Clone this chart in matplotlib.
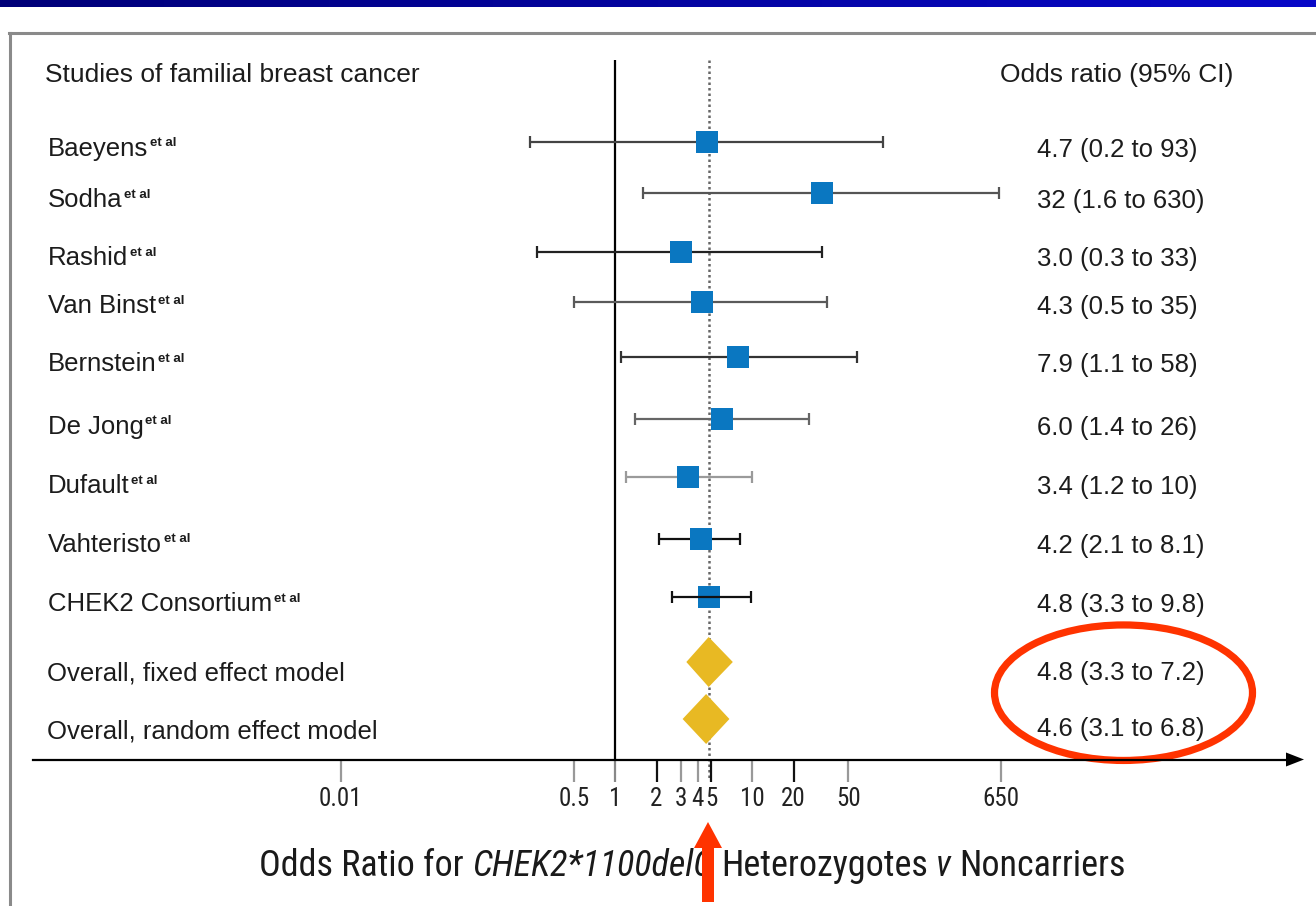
import numpy as np
import matplotlib
matplotlib.use("Agg")
import matplotlib.pyplot as plt
from matplotlib import font_manager
from matplotlib.transforms import Affine2D
from matplotlib.patches import Ellipse, Polygon
from matplotlib.lines import Line2D
from matplotlib.colors import LinearSegmentedColormap

# ---------------- data ----------------
studies = ["Baeyens", "Sodha", "Rashid", "Van Binst", "Bernstein",
           "De Jong", "Dufault", "Vahteristo", "CHEK2 Consortium"]
or_vals = [4.7, 32, 3.0, 4.3, 7.9, 6.0, 3.4, 4.2, 4.8]
ci_lo = [0.24, 1.6, 0.27, 0.5, 1.1, 1.4, 1.2, 2.1, 2.6]
ci_hi = [90, 630, 32, 35, 58, 26, 10, 8.1, 9.8]
or_text = ["4.7 (0.2 to 93)", "32 (1.6 to 630)", "3.0 (0.3 to 33)",
           "4.3 (0.5 to 35)", "7.9 (1.1 to 58)", "6.0 (1.4 to 26)",
           "3.4 (1.2 to 10)", "4.2 (2.1 to 8.1)", "4.8 (3.3 to 9.8)"]
pooled_labels = ["Overall, fixed effect model", "Overall, random effect model"]
pooled_or = [4.8, 4.6]
pooled_lo = [3.3, 3.1]
pooled_hi = [7.2, 6.8]
pooled_text = ["4.8 (3.3 to 7.2)", "4.6 (3.1 to 6.8)"]
tick_vals = [0.01, 0.5, 1, 2, 3, 4, 5, 10, 20, 50, 650]
tick_labels = ["0.01", "0.5", "1", "2", "3", "4", "5", "10", "20", "50", "650"]

# ---------------- layout / style ----------------
W, H = 1316, 906
PX0, PX_DEC = 615.2, 137.2          # pixel of OR=1 and pixels per decade
study_y = [142, 193, 252, 302, 357, 419, 477, 539, 597]
pooled_y = [662, 719]
study_text_y = [147, 198, 256, 304, 362, 425, 484, 543, 602]
pooled_text_y = [672, 730]
pooled_rtext_y = [671, 727]
bar_colors = ["#444444", "#555555", "#222222", "#5a5a5a", "#333333",
              "#666666", "#9a9a9a", "#111111", "#111111"]
tick_colors = ["#999999", "#999999", "#888888", "#111111", "#999999", "#999999",
               "#111111", "#999999", "#111111", "#999999", "#999999"]
TXT = "#1c1c1c"


def pick_font(cands):
    for c in cands:
        try:
            font_manager.findfont(font_manager.FontProperties(family=c),
                                  fallback_to_default=False)
            return c
        except Exception:
            continue
    return "DejaVu Sans"


FONT = pick_font(["Liberation Sans", "Arial", "DejaVu Sans"])
NARROW = pick_font(["Liberation Sans Narrow", "Roboto Condensed", "Arial Narrow",
                    "Open Sans Condensed", "Liberation Sans"])

fig = plt.figure(figsize=(W / 100, H / 100), dpi=100)
fig.patch.set_facecolor("white")
renderer = fig.canvas.get_renderer()

# pixel transform (origin top-left)
pix = Affine2D().scale(1.0 / W, -1.0 / H).translate(0, 1) + fig.transFigure

ax = fig.add_axes([0, 0, 1, 1])
ax.set_xscale("log")
ax.set_xlim(10 ** ((0 - PX0) / PX_DEC), 10 ** ((W - PX0) / PX_DEC))
ax.set_ylim(H, 0)
ax.axis("off")

# top gradient bar
bar_ax = fig.add_axes([0, 1 - 7.5 / H, 1, 7.5 / H])
cmap = LinearSegmentedColormap.from_list("bar", ["#000078", "#0808c8"])
bar_ax.imshow(np.linspace(0, 1, 256)[None, :], aspect="auto", cmap=cmap)
bar_ax.axis("off")

# panel border
fig.add_artist(Line2D([9.5, 9.5], [906, 33], transform=pix, color="#8a8a8a", lw=2.2))
fig.add_artist(Line2D([8.5, 1316], [33, 33], transform=pix, color="#8a8a8a", lw=2.2))

# reference lines
ax.vlines(1, 60, 760, color="black", lw=1.6, zorder=3)
ax.vlines(pooled_or[0], 60, 778, color="#666666", lw=1.8,
          linestyles=[(0, (1.0, 1.2))], zorder=2)

# study CIs and squares
for i in range(len(studies)):
    z = 5 if i == len(studies) - 1 else 3
    ax.hlines(study_y[i], ci_lo[i], ci_hi[i], color=bar_colors[i], lw=1.6, zorder=z)
    ax.vlines([ci_lo[i], ci_hi[i]], study_y[i] - 6, study_y[i] + 6,
              color=bar_colors[i], lw=1.6, zorder=z)
ax.plot(or_vals, study_y, "s", ms=15.2, color="#0a77c1", mew=0, zorder=4)

# pooled diamonds
for i in range(len(pooled_or)):
    ax.fill([pooled_lo[i], pooled_or[i], pooled_hi[i], pooled_or[i]],
            [pooled_y[i], pooled_y[i] - 25, pooled_y[i], pooled_y[i] + 25],
            color="#e8b923", lw=0, zorder=4)

# x axis with arrow
fig.add_artist(Line2D([33, 1290], [759.5, 759.5], transform=pix, color="black", lw=1.6))
fig.add_artist(Polygon([(1286, 752.5), (1304, 759.5), (1286, 766.5)], closed=True,
                       transform=pix, color="black", lw=0))
ax.vlines(tick_vals, 760, 782, colors=tick_colors, lw=1.6, zorder=3)
for v, lab in zip(tick_vals, tick_labels):
    ax.text(v, 806, lab, ha="center", va="baseline", fontsize=18,
            family=NARROW, color="#222222")

# headers
fig.text(45, 82, "Studies of familial breast cancer", transform=pix, fontsize=19,
         family=FONT, color=TXT, va="baseline")
fig.text(1000, 82, "Odds ratio (95% CI)", transform=pix, fontsize=19,
         family=FONT, color=TXT, va="baseline")

# study labels with superscript
for name, ty, rt in zip(studies, study_text_y, or_text):
    base = ty + 9
    t = fig.text(48, base, name, transform=pix, fontsize=18.5, family=FONT,
                 color=TXT, va="baseline")
    bb = t.get_window_extent(renderer)
    fig.text(bb.x1 + 1.5, base - 18.5, "et al", transform=pix, fontsize=9.5,
             family=FONT, weight="bold", color=TXT, va="top")
    fig.text(1037, base + 1, rt, transform=pix, fontsize=18.5, family=FONT,
             color=TXT, va="baseline")

for lab, ty, rty, rt in zip(pooled_labels, pooled_text_y, pooled_rtext_y, pooled_text):
    fig.text(47, ty + 9, lab, transform=pix, fontsize=18.5, family=FONT,
             color=TXT, va="baseline")
    fig.text(1037, rty + 9, rt, transform=pix, fontsize=18.5, family=FONT,
             color=TXT, va="baseline")


# x label with italic parts, sized to span ~869 px like the reference
def build_xlabel(fs):
    pieces = [("Odds Ratio for", "normal"), ("CHEK2*1100delC", "italic"),
              ("Heterozygotes", "normal"), ("v", "italic"), ("Noncarriers", "normal")]
    texts = [fig.text(0, 876, s, transform=pix, fontsize=fs, family=NARROW,
                      style=st, color="#1a1a1a", va="baseline") for s, st in pieces]
    a = fig.text(0, 0, "a a", fontsize=fs, family=NARROW)
    b = fig.text(0, 0, "aa", fontsize=fs, family=NARROW)
    gap = a.get_window_extent(renderer).width - b.get_window_extent(renderer).width
    a.remove()
    b.remove()
    widths = [t.get_window_extent(renderer).width for t in texts]
    total = sum(widths) + gap * (len(widths) - 1)
    return texts, widths, gap, total


texts, widths, gap, total = build_xlabel(26)
if total > 875:
    fs = 26 * 869.0 / total
    for t in texts:
        t.remove()
    texts, widths, gap, total = build_xlabel(fs)
x = 692.5 - total / 2
for t, w in zip(texts, widths):
    t.set_x(x)
    x += w + gap

# red annotations
fig.add_artist(Ellipse((1123.5, 692.7), 258, 135.5, transform=pix, fill=False,
                       edgecolor="#ff3300", lw=5.2))
fig.add_artist(Polygon([(702, 902), (702, 848), (694, 848), (708, 822),
                        (722, 848), (714, 848), (714, 902)], closed=True,
                       transform=pix, color="#ff3300", lw=0, zorder=10))

fig.savefig("out.png", dpi=100)
